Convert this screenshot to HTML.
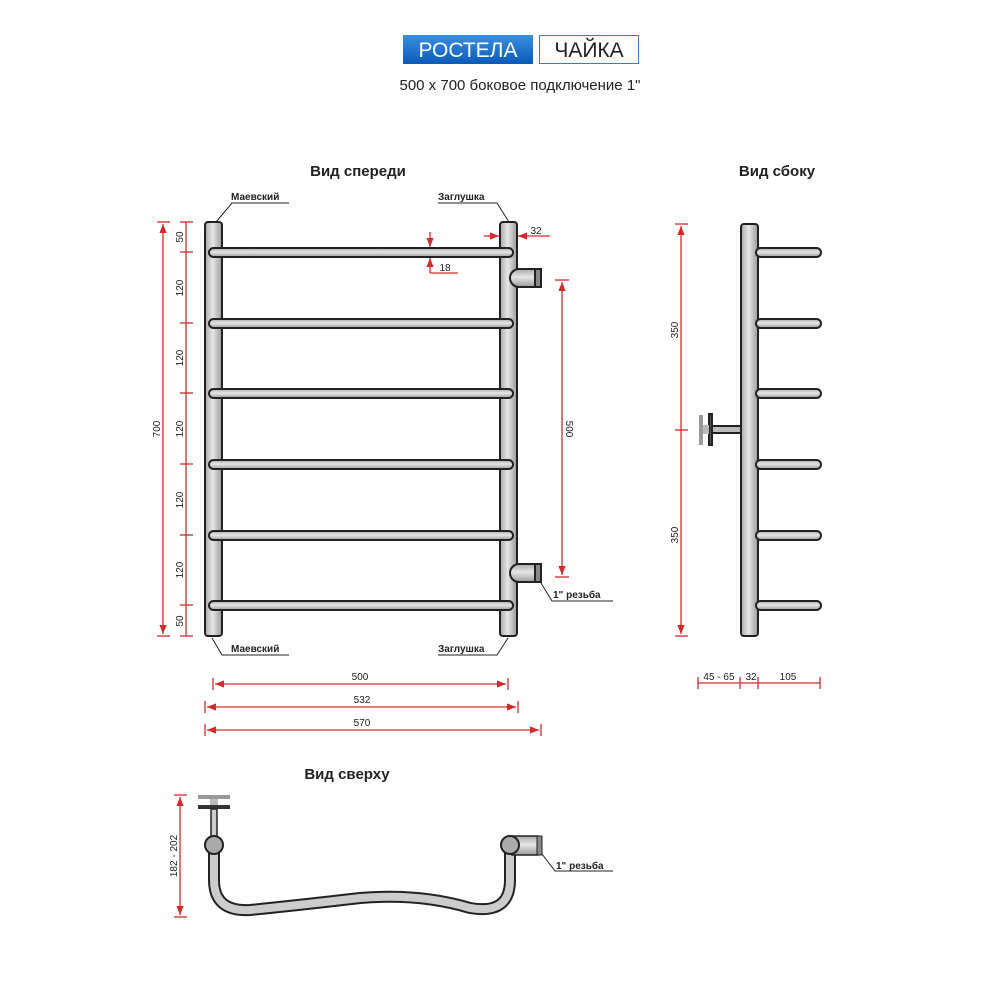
<!DOCTYPE html>
<html><head><meta charset="utf-8"><style>body{margin:0;background:#fff}svg{display:block}</style></head><body>
<svg width="1000" height="1000" viewBox="0 0 1000 1000" xmlns="http://www.w3.org/2000/svg" font-family="Liberation Sans, DejaVu Sans, sans-serif">
<defs>
<linearGradient id="gv" x1="0" x2="1" y1="0" y2="0"><stop offset="0" stop-color="#a9a9a9"/><stop offset="0.45" stop-color="#e6e6e6"/><stop offset="1" stop-color="#9a9a9a"/></linearGradient>
<linearGradient id="gh" x1="0" x2="0" y1="0" y2="1"><stop offset="0" stop-color="#a9a9a9"/><stop offset="0.45" stop-color="#e6e6e6"/><stop offset="1" stop-color="#9a9a9a"/></linearGradient>
<linearGradient id="blue" x1="0" x2="0" y1="0" y2="1"><stop offset="0" stop-color="#3a8fe0"/><stop offset="1" stop-color="#0c5ab8"/></linearGradient>
<marker id="a" viewBox="0 0 10 10" refX="10" refY="5" markerWidth="7" markerHeight="7" orient="auto-start-reverse"><path d="M0,1 L10,5 L0,9 z" fill="#d42a2a"/></marker>
</defs>
<!-- header -->
<rect x="403" y="35" width="130" height="29" fill="url(#blue)"/>
<text x="468" y="57" font-size="21" fill="#fff" text-anchor="middle">РОСТЕЛА</text>
<rect x="539.5" y="35.5" width="99" height="28" fill="#fff" stroke="#3a7cc8"/>
<text x="589" y="57" font-size="21" fill="#222" text-anchor="middle">ЧАЙКА</text>
<text x="520" y="90" font-size="15" fill="#222" text-anchor="middle">500 x 700 боковое подключение 1"</text>
<g font-weight="bold" font-size="15" fill="#222" text-anchor="middle">
<text x="358" y="176">Вид спереди</text><text x="777" y="176">Вид сбоку</text><text x="347" y="779">Вид сверху</text></g>

<!-- front view -->
<g stroke="#222" stroke-width="2">
<rect x="205" y="222" width="17" height="414" rx="3" fill="url(#gv)"/>
<rect x="500" y="222" width="17" height="414" rx="3" fill="url(#gv)"/>
<g fill="url(#gh)">
<rect x="209" y="248" width="304" height="9" rx="4.5"/>
<rect x="209" y="319" width="304" height="9" rx="4.5"/>
<rect x="209" y="389" width="304" height="9" rx="4.5"/>
<rect x="209" y="460" width="304" height="9" rx="4.5"/>
<rect x="209" y="531" width="304" height="9" rx="4.5"/>
<rect x="209" y="601" width="304" height="9" rx="4.5"/>
<path d="M519,269 H535 V287 H519 A9,9 0 0 1 519,269 Z"/>
<path d="M519,564 H535 V582 H519 A9,9 0 0 1 519,564 Z"/>
</g>
<rect x="535" y="269" width="6" height="18" fill="#888"/>
<rect x="535" y="564" width="6" height="18" fill="#888"/>
</g>
<!-- leaders -->
<g stroke="#222" stroke-width="1" fill="none">
<path d="M289,203 H232 L216,222"/><path d="M438,203 H497 L509,222"/>
<path d="M289,655 H222 L212,638"/><path d="M438,655 H497 L508,638"/>
<path d="M613,601 H552 L541,583"/>
<path d="M613,871 H555 L542,854"/>
</g>
<g font-size="10" font-weight="bold" fill="#222">
<text x="231" y="200">Маевский</text><text x="438" y="200">Заглушка</text>
<text x="231" y="652">Маевский</text><text x="438" y="652">Заглушка</text>
<text x="553" y="598">1" резьба</text><text x="556" y="869">1" резьба</text>
</g>
<!-- red dims -->
<g stroke="#d42a2a" stroke-width="1.3" fill="none">
<line x1="163" y1="224" x2="163" y2="634" marker-start="url(#a)" marker-end="url(#a)"/>
<line x1="157" y1="222" x2="170" y2="222"/><line x1="157" y1="636" x2="170" y2="636"/>
<line x1="186" y1="222" x2="186" y2="636"/>
<g><line x1="180" y1="222" x2="193" y2="222"/><line x1="180" y1="252" x2="193" y2="252"/><line x1="180" y1="323" x2="193" y2="323"/><line x1="180" y1="393" x2="193" y2="393"/><line x1="180" y1="464" x2="193" y2="464"/><line x1="180" y1="535" x2="193" y2="535"/><line x1="180" y1="605" x2="193" y2="605"/><line x1="180" y1="636" x2="193" y2="636"/></g>
<line x1="430" y1="232" x2="430" y2="247" marker-end="url(#a)"/><line x1="430" y1="273" x2="430" y2="258" marker-end="url(#a)"/>
<line x1="430" y1="273" x2="458" y2="273" stroke="#d42a2a"/>
<line x1="484" y1="236" x2="499" y2="236" marker-end="url(#a)"/><line x1="550" y1="236" x2="518" y2="236" marker-end="url(#a)"/>
<line x1="562" y1="282" x2="562" y2="575" marker-start="url(#a)" marker-end="url(#a)"/>
<line x1="555" y1="280" x2="569" y2="280"/><line x1="555" y1="577" x2="569" y2="577"/>
<line x1="215" y1="684" x2="506" y2="684" marker-start="url(#a)" marker-end="url(#a)"/>
<line x1="213" y1="678" x2="213" y2="690"/><line x1="508" y1="678" x2="508" y2="690"/>
<line x1="207" y1="707" x2="516" y2="707" marker-start="url(#a)" marker-end="url(#a)"/>
<line x1="205" y1="701" x2="205" y2="713"/><line x1="518" y1="701" x2="518" y2="713"/>
<line x1="207" y1="730" x2="539" y2="730" marker-start="url(#a)" marker-end="url(#a)"/>
<line x1="205" y1="724" x2="205" y2="736"/><line x1="541" y1="724" x2="541" y2="736"/>
<!-- side -->
<line x1="681" y1="226" x2="681" y2="634" marker-start="url(#a)" marker-end="url(#a)"/>
<line x1="675" y1="224" x2="688" y2="224"/><line x1="675" y1="430" x2="688" y2="430"/><line x1="675" y1="636" x2="688" y2="636"/>
<line x1="698" y1="683" x2="820" y2="683"/>
<line x1="698" y1="677" x2="698" y2="689"/><line x1="740" y1="677" x2="740" y2="689"/><line x1="758" y1="677" x2="758" y2="689"/><line x1="820" y1="677" x2="820" y2="689"/>
<!-- top -->
<line x1="180" y1="797" x2="180" y2="915" marker-start="url(#a)" marker-end="url(#a)"/>
<line x1="174" y1="795" x2="187" y2="795"/><line x1="174" y1="917" x2="187" y2="917"/>
</g>
<g font-size="10" fill="#222" text-anchor="middle">
<text transform="translate(183,237) rotate(-90)">50</text>
<text transform="translate(183,288) rotate(-90)">120</text>
<text transform="translate(183,358) rotate(-90)">120</text>
<text transform="translate(183,429) rotate(-90)">120</text>
<text transform="translate(183,500) rotate(-90)">120</text>
<text transform="translate(183,570) rotate(-90)">120</text>
<text transform="translate(183,621) rotate(-90)">50</text>
<text transform="translate(160,429) rotate(-90)">700</text>
<text transform="translate(566,429) rotate(90)">500</text>
<text x="445" y="271">18</text><text x="536" y="234">32</text>
<text x="360" y="680">500</text><text x="362" y="703">532</text><text x="362" y="726">570</text>
<text transform="translate(678,330) rotate(-90)">350</text>
<text transform="translate(678,535) rotate(-90)">350</text>
<text x="719" y="680">45 - 65</text><text x="751" y="680">32</text><text x="788" y="680">105</text>
<text transform="translate(177,856) rotate(-90)">182 - 202</text>
</g>

<!-- side view -->
<g stroke="#222" stroke-width="2">
<rect x="741" y="224" width="17" height="412" rx="3" fill="url(#gv)"/>
<g fill="url(#gh)">
<rect x="756" y="248" width="65" height="9" rx="4.5"/><rect x="756" y="319" width="65" height="9" rx="4.5"/>
<rect x="756" y="389" width="65" height="9" rx="4.5"/><rect x="756" y="460" width="65" height="9" rx="4.5"/>
<rect x="756" y="531" width="65" height="9" rx="4.5"/><rect x="756" y="601" width="65" height="9" rx="4.5"/>
<rect x="711" y="426" width="30" height="7" fill="#bbb"/>
</g>
<rect x="709" y="414" width="3" height="31" fill="#555"/>
</g>
<rect x="699" y="415" width="4" height="30" fill="#999"/><rect x="703" y="425" width="6" height="9" fill="#bbb"/>

<!-- top view -->
<g>
<path d="M214,845 V880 Q214,912 250,910 Q300,905 360,898 Q420,893 470,908 Q510,915 510,880 V845" fill="none" stroke="#222" stroke-width="12" stroke-linecap="round"/>
<path d="M214,845 V880 Q214,912 250,910 Q300,905 360,898 Q420,893 470,908 Q510,915 510,880 V845" fill="none" stroke="#ccc" stroke-width="8"/>
<rect x="198" y="795" width="32" height="4" fill="#999"/>
<rect x="198" y="805" width="32" height="4" fill="#333"/>
<rect x="210" y="799" width="8" height="6" fill="#bbb"/>
<rect x="211" y="809" width="6" height="36" fill="#ccc" stroke="#222" stroke-width="1.5"/>
<circle cx="214" cy="845" r="9" fill="#aaa" stroke="#222" stroke-width="2"/>
<rect x="512" y="836" width="26" height="19" fill="url(#gh)" stroke="#222" stroke-width="1.5"/>
<rect x="537" y="836" width="5" height="19" fill="#888" stroke="#222" stroke-width="1"/>
<circle cx="510" cy="845" r="9" fill="#aaa" stroke="#222" stroke-width="2"/>
</g>
</svg>
</body></html>
